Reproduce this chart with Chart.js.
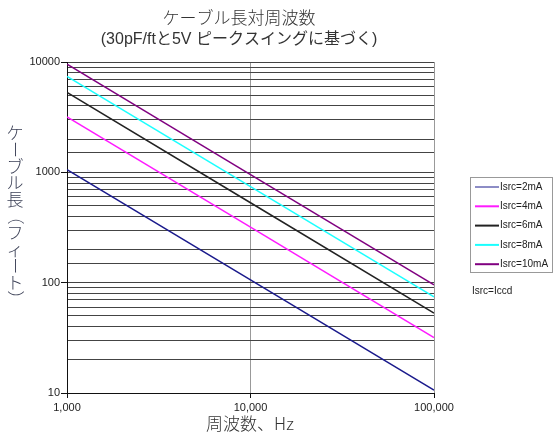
<!DOCTYPE html>
<html>
<head>
<meta charset="utf-8">
<script src="https://cdn.jsdelivr.net/npm/chart.js@4.4.1/dist/chart.umd.min.js"></script>
<style>
  html, body { margin: 0; padding: 0; background: #fff; }
  #wrap { width: 556px; height: 434px; }
</style>
</head>
<body>
<div id="wrap"><canvas id="myChart" width="556" height="434"></canvas></div>
<script>
// data
const freqs = [1000, 10000, 100000]
const labels = ['Isrc=2mA', 'Isrc=4mA', 'Isrc=6mA', 'Isrc=8mA', 'Isrc=10mA']
const isrc2 = [1060, 106, 10.6]
const isrc4 = [3180, 318, 31.8]
const isrc6 = [5300, 530, 53]
const isrc8 = [7420, 742, 74.2]
const isrc10 = [9550, 955, 95.5]
const colors = ['#1a1a8c', '#ff1aff', '#222222', '#1affff', '#800080']
const xTickLabels = { 1000: '1,000', 10000: '10,000', 100000: '100,000' }
const yTickLabels = { 10: '10', 100: '100', 1000: '1000', 10000: '10000' }

const sans = '"Liberation Sans", Arial, "Noto Sans CJK JP", sans-serif'
const jp = '"Noto Sans CJK JP", sans-serif'

function toPoints(vals) {
  return vals.map((v, i) => ({ x: freqs[i], y: v }))
}

const allSeries = [isrc2, isrc4, isrc6, isrc8, isrc10]

// titles, axis titles and boxed legend
const textPlugin = {
  id: 'texts',
  afterDraw(chart) {
    let ctx = chart.ctx
    ctx.save()
    ctx.fillStyle = '#333'
    ctx.textAlign = 'center'
    ctx.textBaseline = 'middle'
    ctx.font = '300 17px ' + jp
    ctx.fillText('ケーブル長対周波数', 239, 18)
    ctx.font = '16px ' + sans
    ctx.fillText('(30pF/ftと5V ピークスイングに基づく)', 239, 40)

    // x title
    ctx.font = '300 17px ' + jp
    ctx.fillStyle = '#333'
    ctx.fillText('周波数、Hz', 250, 424)

    // y title, written vertically
    let chars = ['ケ', 'ー', 'ブ', 'ル', '長', '（', 'フ', 'ィ', 'ー', 'ト', '）']
    ctx.font = '300 17px ' + jp
    ctx.fillStyle = '#3a3f55'
    chars.forEach((c, i) => {
      let y = 133 + i * 16.6
      if ('ー（）'.includes(c)) {
        ctx.save()
        ctx.translate(15, y)
        ctx.rotate(Math.PI / 2)
        ctx.fillText(c, 0, 0)
        ctx.restore()
      } else {
        ctx.fillText(c, 15, y)
      }
    })

    // legend
    ctx.strokeStyle = '#999'
    ctx.lineWidth = 1
    ctx.strokeRect(470.5, 177.5, 82, 95)
    ctx.font = '10px ' + sans
    ctx.textAlign = 'left'
    chart.data.datasets.forEach((ds, i) => {
      let y = 187 + i * 19.3
      ctx.strokeStyle = ds.borderColor
      ctx.lineWidth = i == 0 ? 1 : 2
      ctx.beginPath()
      ctx.moveTo(475, y)
      ctx.lineTo(499, y)
      ctx.stroke()
      ctx.fillStyle = '#222'
      ctx.fillText(ds.label, 500, y)
    })
    ctx.fillText('Isrc=Iccd', 472, 291)
    ctx.restore()
  }
}

let ctx = document.getElementById('myChart').getContext('2d')
let myChart = new Chart(ctx, {
  type: 'scatter',
  data: {
    datasets: allSeries.map((vals, i) => ({
      label: labels[i],
      data: toPoints(vals),
      showLine: true,
      borderColor: colors[i],
      backgroundColor: colors[i],
      borderWidth: 1.5,
      pointRadius: 0,
      fill: false
    }))
  },
  options: {
    responsive: false,
    animation: false,
    layout: { padding: { left: 0, right: 122, top: 62, bottom: 0 } },
    plugins: {
      legend: { display: false },
      title: { display: false },
      tooltip: { enabled: false }
    },
    scales: {
      x: {
        type: 'logarithmic',
        min: 1000,
        max: 100000,
        afterFit: (s) => { s.height = 41 },
        border: { color: '#111', width: 1 },
        grid: {
          color: (c) => (c.tick && xTickLabels[c.tick.value] && c.tick.value != 1000) ? '#999' : 'rgba(0,0,0,0)',
          tickColor: (c) => (c.tick && xTickLabels[c.tick.value]) ? '#111' : 'rgba(0,0,0,0)',
          tickLength: 5
        },
        ticks: {
          autoSkip: false,
          maxRotation: 0,
          padding: 3,
          color: '#222',
          font: { family: sans, size: 11 },
          callback: (v) => xTickLabels[v] || ''
        }
      },
      y: {
        type: 'logarithmic',
        min: 10,
        max: 10000,
        afterFit: (s) => { s.width = 67 },
        border: { color: '#111', width: 1 },
        grid: {
          color: '#444',
          tickColor: (c) => (c.tick && yTickLabels[c.tick.value]) ? '#111' : 'rgba(0,0,0,0)',
          tickLength: 6
        },
        ticks: {
          autoSkip: false,
          padding: 1,
          color: '#222',
          font: { family: sans, size: 11 },
          callback: (v) => yTickLabels[v] || ''
        }
      }
    }
  },
  plugins: [textPlugin]
})
</script>
</body>
</html>
